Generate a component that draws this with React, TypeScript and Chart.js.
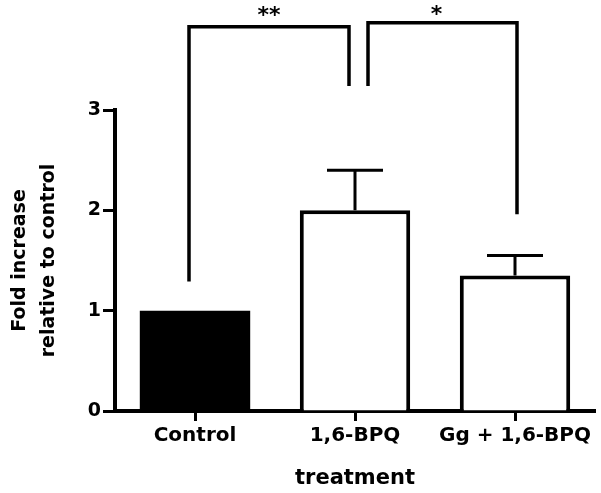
import React, { useEffect, useRef } from "react";
import { Chart, registerables } from "chart.js";

Chart.register(...registerables);

const categories = ["Control", "1,6-BPQ", "Gg + 1,6-BPQ"];
const means = [1.0, 2.0, 1.35];
const errors = [0, 0.4, 0.2];
const fills = ["#000000", "#ffffff", "#ffffff"];
const yTicks = [0, 1, 2, 3];
// significance brackets
const bracketFrom = [0, 1];
const bracketTo = [1, 2];
const bracketTop = [3.83, 3.87];
const bracketLeftBottom = [1.29, 3.24];
const bracketRightBottom = [3.24, 1.96];
const bracketLabels = ["**", "*"];

const FONT = "'DejaVu Sans', sans-serif";

const overlayPlugin = {
  id: "overlay",
  afterDatasetsDraw(chart: any) {
    const ctx = chart.ctx;
    const x = chart.scales.x;
    const y = chart.scales.y;
    ctx.save();
    ctx.strokeStyle = "#000";
    ctx.lineCap = "butt";
    // error bars
    ctx.lineWidth = 3;
    means.forEach((m, i) => {
      const e = errors[i];
      if (!e) return;
      const cx = x.getPixelForValue(i);
      const yTop = y.getPixelForValue(m + e);
      const yBar = y.getPixelForValue(m);
      ctx.beginPath();
      ctx.moveTo(cx, yBar);
      ctx.lineTo(cx, yTop);
      ctx.moveTo(cx - 28, yTop);
      ctx.lineTo(cx + 28, yTop);
      ctx.stroke();
    });
    // brackets
    const leftShift = [-6, 13];
    const rightShift = [-6, 2];
    ctx.lineWidth = 3.5;
    ctx.lineJoin = "miter";
    bracketFrom.forEach((f, k) => {
      const x1 = x.getPixelForValue(f) + leftShift[k];
      const x2 = x.getPixelForValue(bracketTo[k]) + rightShift[k];
      const yt = y.getPixelForValue(bracketTop[k]);
      const yl = y.getPixelForValue(bracketLeftBottom[k]);
      const yr = y.getPixelForValue(bracketRightBottom[k]);
      ctx.beginPath();
      ctx.moveTo(x1, yl);
      ctx.lineTo(x1, yt);
      ctx.lineTo(x2, yt);
      ctx.lineTo(x2, yr);
      ctx.stroke();
      ctx.fillStyle = "#000";
      ctx.font = `bold 22px ${FONT}`;
      ctx.textAlign = "center";
      ctx.textBaseline = "alphabetic";
      ctx.fillText(bracketLabels[k], (x1 + x2) / 2 - (k === 1 ? 6 : 0), yt - (k === 0 ? 5 : 2));
    });
    ctx.restore();
  },
};

export default function App() {
  const ref = useRef<HTMLCanvasElement>(null);
  useEffect(() => {
    if (!ref.current) return;
    const chart = new Chart(ref.current, {
      type: "bar",
      data: {
        labels: categories,
        datasets: [
          {
            data: means,
            backgroundColor: fills,
            borderColor: "#000",
            borderWidth: [0, 4, 4],
            barPercentage: 0.69,
            categoryPercentage: 1,
          },
        ],
      },
      options: {
        animation: false,
        responsive: false,
        devicePixelRatio: 1,
        layout: { padding: { top: 110, right: 6, left: 0, bottom: 0 } },
        plugins: { legend: { display: false }, tooltip: { enabled: false } },
        scales: {
          x: {
            offset: true,
            afterFit: (s: any) => {
              s.height = 82;
            },
            grid: {
              offset: false,
              drawOnChartArea: false,
              drawTicks: true,
              tickLength: 10,
              tickWidth: 3,
              tickColor: "#000",
            },
            border: { display: true, color: "#000", width: 4 },
            ticks: {
              color: "#000",
              padding: 3,
              font: { family: FONT, size: 20, weight: "bold" },
              maxRotation: 0,
            },
            title: {
              display: true,
              text: "treatment",
              color: "#000",
              font: { family: FONT, size: 21, weight: "bold", lineHeight: 1.2 },
              padding: { top: 0, bottom: 2 },
            },
          },
          y: {
            min: 0,
            max: 3,
            afterFit: (s: any) => {
              s.width = 115;
            },
            afterBuildTicks: (s: any) => {
              s.ticks = yTicks.map((v) => ({ value: v }));
            },
            grid: {
              drawOnChartArea: false,
              drawTicks: true,
              tickLength: 12,
              tickWidth: 3,
              tickColor: "#000",
            },
            border: { display: true, color: "#000", width: 4 },
            ticks: {
              color: "#000",
              padding: 2,
              font: { family: FONT, size: 19, weight: "bold" },
            },
            title: {
              display: true,
              text: ["Fold increase", "relative to control"],
              color: "#000",
              font: { family: FONT, size: 19, weight: "bold", lineHeight: 1.5 },
              padding: { top: 6, bottom: 0 },
            },
          },
        },
      },
      plugins: [overlayPlugin],
    });
    return () => chart.destroy();
  }, []);
  return (
    <div style={{ position: "absolute", left: 0, top: 0, width: 601, height: 493, background: "#fff" }}>
      <canvas ref={ref} width={601} height={493} />
    </div>
  );
}
